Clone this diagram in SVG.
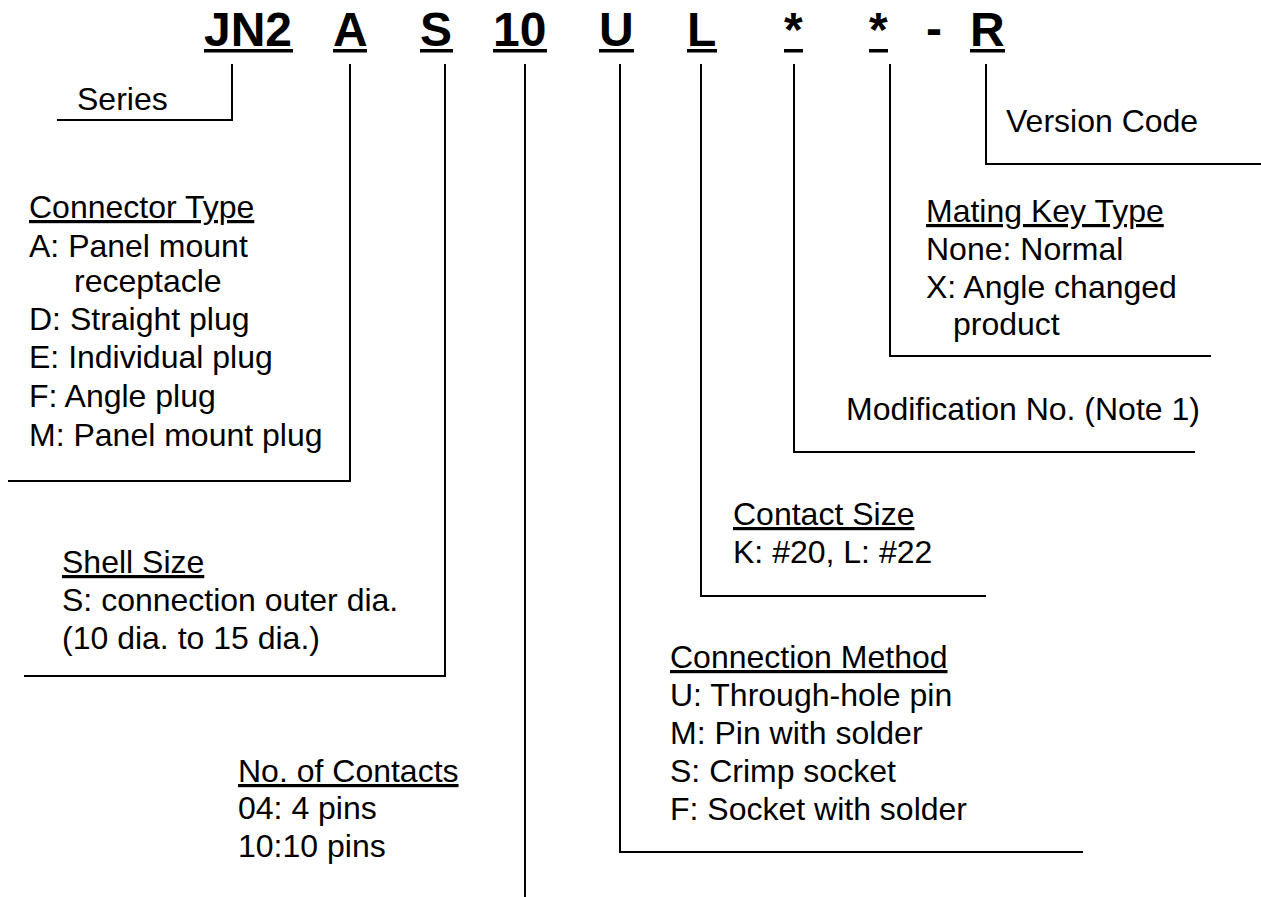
<svg xmlns="http://www.w3.org/2000/svg" width="1261" height="897" viewBox="0 0 1261 897">
<style>
  .hd{font-family:"Liberation Sans",Arial,sans-serif;font-weight:bold;font-size:48px;fill:#000}
  .t{font-family:"Liberation Sans",Arial,sans-serif;font-size:32px;fill:#000}
  .u{text-decoration:underline}
  .ul{fill:#000}
  .ln{stroke:#000;stroke-width:2;fill:none}
</style>
<rect width="1261" height="897" fill="#fff"/>
<g id="code">
  <text class="hd" x="204" y="46">JN2</text>
  <rect class="ul" x="204" y="49" width="89" height="3.5"/>
  <text class="hd" x="333" y="46">A</text>
  <rect class="ul" x="333" y="49" width="34" height="3.5"/>
  <text class="hd" x="420" y="46">S</text>
  <rect class="ul" x="420" y="49" width="33" height="3.5"/>
  <text class="hd" x="493" y="46">10</text>
  <rect class="ul" x="493" y="49" width="54" height="3.5"/>
  <text class="hd" x="599" y="46">U</text>
  <rect class="ul" x="599" y="49" width="35" height="3.5"/>
  <text class="hd" x="687" y="46">L</text>
  <rect class="ul" x="687" y="49" width="30" height="3.5"/>
  <text class="hd" x="784" y="46">*</text>
  <rect class="ul" x="784" y="49" width="19" height="3.5"/>
  <text class="hd" x="869" y="46">*</text>
  <rect class="ul" x="869" y="49" width="19" height="3.5"/>
  <text class="hd" x="926" y="45">-</text>
  <text class="hd" x="970" y="46">R</text>
  <rect class="ul" x="970" y="49" width="35" height="3.5"/>
</g>
<g id="connectors">
  <polyline class="ln" points="232,64 232,120 57,120"/>
  <polyline class="ln" points="350,64 350,481 8,481"/>
  <polyline class="ln" points="445,64 445,676 24,676"/>
  <polyline class="ln" points="525,64 525,897"/>
  <polyline class="ln" points="620,64 620,852 1083,852"/>
  <polyline class="ln" points="701,64 701,596 986,596"/>
  <polyline class="ln" points="794,64 794,452 1195,452"/>
  <polyline class="ln" points="890,64 890,356 1211,356"/>
  <polyline class="ln" points="986,64 986,164 1261,164"/>
</g>
<g id="series">
  <text class="t" x="77" y="110">Series</text>
</g>
<g id="connector-type">
  <text class="t u" x="29" y="218">Connector Type</text>
  <text class="t" x="29" y="257">A: Panel mount</text>
  <text class="t" x="74" y="292">receptacle</text>
  <text class="t" x="29" y="330">D: Straight plug</text>
  <text class="t" x="29" y="368">E: Individual plug</text>
  <text class="t" x="29" y="407">F: Angle plug</text>
  <text class="t" x="29" y="446">M: Panel mount plug</text>
</g>
<g id="shell-size">
  <text class="t u" x="62" y="573">Shell Size</text>
  <text class="t" x="62" y="611">S: connection outer dia.</text>
  <text class="t" x="62" y="649">(10 dia. to 15 dia.)</text>
</g>
<g id="contacts">
  <text class="t u" x="238" y="782">No. of Contacts</text>
  <text class="t" x="238" y="819">04: 4 pins</text>
  <text class="t" x="238" y="857">10:10 pins</text>
</g>
<g id="connection-method">
  <text class="t u" x="670" y="668">Connection Method</text>
  <text class="t" x="670" y="706">U: Through-hole pin</text>
  <text class="t" x="670" y="744">M: Pin with solder</text>
  <text class="t" x="670" y="782">S: Crimp socket</text>
  <text class="t" x="670" y="820">F: Socket with solder</text>
</g>
<g id="contact-size">
  <text class="t u" x="733" y="525">Contact Size</text>
  <text class="t" x="733" y="563">K: #20, L: #22</text>
</g>
<g id="modification">
  <text class="t" x="846" y="420">Modification No. (Note 1)</text>
</g>
<g id="mating-key">
  <text class="t u" x="926" y="222">Mating Key Type</text>
  <text class="t" x="926" y="260">None: Normal</text>
  <text class="t" x="926" y="298">X: Angle changed</text>
  <text class="t" x="953" y="335">product</text>
</g>
<g id="version">
  <text class="t" x="1006" y="132">Version Code</text>
</g>
</svg>
